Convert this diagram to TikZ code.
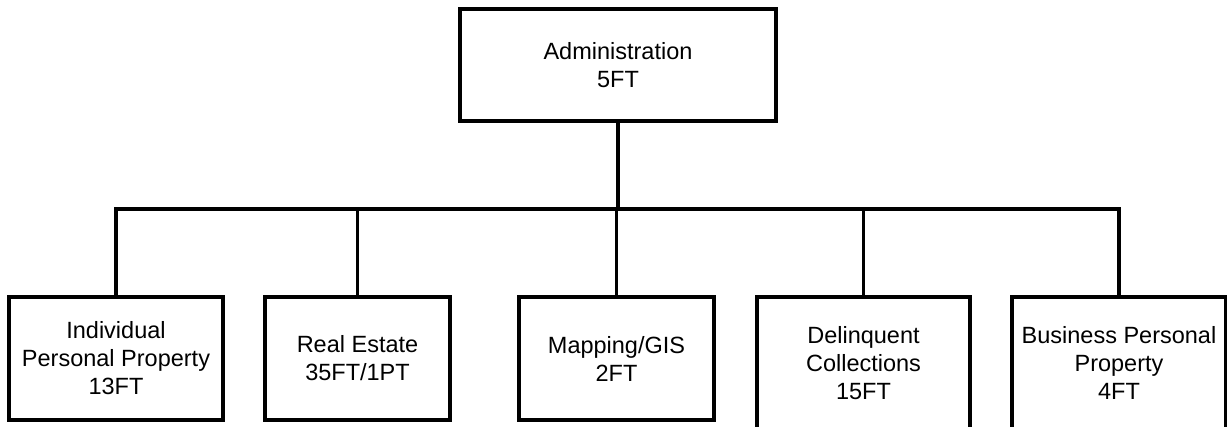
\documentclass[tikz,border=0pt]{standalone}
\usepackage{fontspec}
\setmainfont{Liberation Sans}
\begin{document}
\begin{tikzpicture}[x=1pt,y=-1pt,
  box/.style={draw=black, line width=3.2pt, inner sep=0pt, align=center,
    font=\fontsize{23.5}{28}\selectfont},
  conn/.style={line width=3.2pt}]
\useasboundingbox (0,0) rectangle (1227,427);
\clip (0,0) rectangle (1227,427);
\node[box, minimum width=316pt, minimum height=112pt] (top) at (618,65) {Administration\\5FT};
\node[box, minimum width=214pt, minimum height=123pt] (b1) at (116,358.5) {Individual\\Personal Property\\13FT};
\node[box, minimum width=185pt, minimum height=123pt] (b2) at (357.5,358.5) {Real Estate\\35FT/1PT};
\node[box, minimum width=195pt, minimum height=123pt] (b3) at (616.5,358.5) {Mapping/GIS\\2FT};
\node[box, minimum width=213pt, minimum height=132pt] (b4) at (863.5,363) {Delinquent\\Collections\\15FT};
\node[box, minimum width=214pt, minimum height=132pt] (b5) at (1119,363) {Business Personal\\Property\\4FT};
\coordinate (bus) at (618,209);
\draw[conn] (top.south) -- (bus);
\foreach \c in {b1,b2,b3,b4,b5} \draw[conn] (bus) -| (\c.north);
\end{tikzpicture}
\end{document}
